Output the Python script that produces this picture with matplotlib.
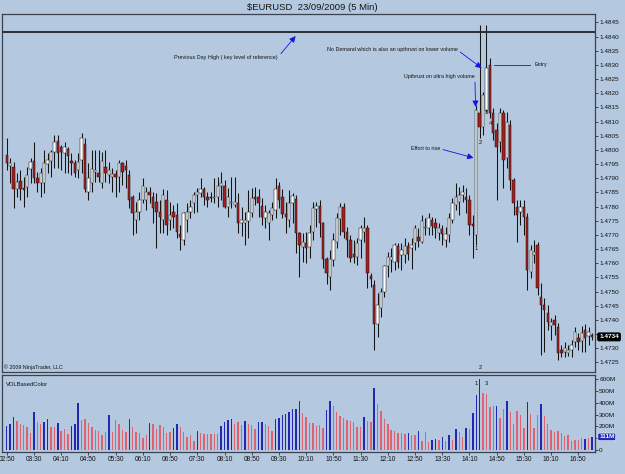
import matplotlib
matplotlib.use("Agg")
import matplotlib.pyplot as plt

# 5 minute EURUSD bars, 23/09/2009
opens = [
    1.47982, 1.47944, 1.47940, 1.47862, 1.47891, 1.47866, 1.47869, 1.47933, 1.47961, 1.47901,
    1.47884, 1.47884, 1.47951, 1.47961, 1.47993, 1.48032, 1.48011, 1.47989, 1.48004, 1.47961,
    1.47954, 1.47929, 1.47965, 1.48021, 1.47852, 1.47884, 1.47922, 1.47919, 1.47884, 1.47940,
    1.47912, 1.47905, 1.47915, 1.47905, 1.47954, 1.47944, 1.47912, 1.47834, 1.47753, 1.47781,
    1.47824, 1.47824, 1.47852, 1.47834, 1.47816, 1.47781, 1.47753, 1.47824, 1.47753, 1.47781,
    1.47771, 1.47703, 1.47682, 1.47753, 1.47781, 1.47813, 1.47841, 1.47848, 1.47862, 1.47834,
    1.47834, 1.47831, 1.47834, 1.47873, 1.47873, 1.47799, 1.47813, 1.47806, 1.47813, 1.47742,
    1.47742, 1.47749, 1.47778, 1.47834, 1.47834, 1.47802, 1.47760, 1.47742, 1.47771, 1.47788,
    1.47873, 1.47834, 1.47774, 1.47753, 1.47813, 1.47827, 1.47707, 1.47658, 1.47672, 1.47658,
    1.47711, 1.47792, 1.47802, 1.47742, 1.47615, 1.47552, 1.47612, 1.47675, 1.47756, 1.47799,
    1.47711, 1.47682, 1.47633, 1.47622, 1.47682, 1.47711, 1.47725, 1.47555, 1.47523, 1.47386,
    1.47442, 1.47499, 1.47591, 1.47612, 1.47605, 1.47661, 1.47629, 1.47629, 1.47661, 1.47654,
    1.47672, 1.47693, 1.47675, 1.47725, 1.47725, 1.47753, 1.47742, 1.47707, 1.47721, 1.47682,
    1.47700, 1.47753, 1.47806, 1.47816, 1.47841, 1.47834, 1.47824, 1.47739, 1.47700, 1.48131,
    1.48081, 1.48141, 1.48300, 1.48131, 1.48071, 1.48028, 1.48131, 1.47972, 1.48088, 1.47894,
    1.47799, 1.47781, 1.47799, 1.47763, 1.47569, 1.47629, 1.47665, 1.47481, 1.47453, 1.47425,
    1.47379, 1.47400, 1.47375, 1.47294, 1.47287, 1.47283, 1.47294, 1.47322, 1.47336, 1.47325,
    1.47365, 1.47343, 1.47347,
]
highs = [
    1.48042, 1.47972, 1.47958, 1.47919, 1.47929, 1.47905, 1.47940, 1.47972, 1.48028, 1.47922,
    1.47936, 1.48000, 1.47989, 1.48000, 1.48053, 1.48053, 1.48018, 1.48028, 1.48011, 1.47989,
    1.47965, 1.47989, 1.48060, 1.48042, 1.47954, 1.48000, 1.48000, 1.48000, 1.47993, 1.48000,
    1.47958, 1.47936, 1.47929, 1.47965, 1.47958, 1.47965, 1.47929, 1.47841, 1.47816, 1.47852,
    1.47901, 1.47869, 1.47869, 1.47852, 1.47848, 1.47824, 1.47862, 1.47859, 1.47816, 1.47806,
    1.47813, 1.47735, 1.47781, 1.47813, 1.47824, 1.47852, 1.47866, 1.47901, 1.47869, 1.47852,
    1.47852, 1.47901, 1.47905, 1.47922, 1.47894, 1.47866, 1.47905, 1.47905, 1.47848, 1.47799,
    1.47781, 1.47859, 1.47866, 1.47869, 1.47862, 1.47831, 1.47806, 1.47788, 1.47816, 1.47901,
    1.47887, 1.47862, 1.47816, 1.47859, 1.47848, 1.47841, 1.47711, 1.47707, 1.47711, 1.47735,
    1.47816, 1.47816, 1.47824, 1.47746, 1.47622, 1.47647, 1.47707, 1.47778, 1.47813, 1.47813,
    1.47728, 1.47700, 1.47682, 1.47689, 1.47735, 1.47763, 1.47735, 1.47566, 1.47541, 1.47495,
    1.47513, 1.47594, 1.47640, 1.47654, 1.47672, 1.47672, 1.47672, 1.47689, 1.47675, 1.47689,
    1.47735, 1.47725, 1.47771, 1.47760, 1.47778, 1.47763, 1.47760, 1.47742, 1.47735, 1.47728,
    1.47778, 1.47831, 1.47884, 1.47869, 1.47876, 1.47866, 1.47841, 1.47771, 1.48159, 1.48441,
    1.48205, 1.48441, 1.48325, 1.48148, 1.48095, 1.48148, 1.48141, 1.48134, 1.48106, 1.47901,
    1.47824, 1.47824, 1.47824, 1.47778, 1.47665, 1.47682, 1.47675, 1.47530, 1.47478, 1.47453,
    1.47407, 1.47418, 1.47389, 1.47312, 1.47322, 1.47312, 1.47329, 1.47375, 1.47354, 1.47379,
    1.47386, 1.47375, 1.47354,
]
lows = [
    1.47929, 1.47884, 1.47795, 1.47834, 1.47824, 1.47799, 1.47834, 1.47884, 1.47884, 1.47852,
    1.47834, 1.47848, 1.47919, 1.47905, 1.47936, 1.47936, 1.47929, 1.47919, 1.47919, 1.47912,
    1.47905, 1.47901, 1.47919, 1.47852, 1.47824, 1.47852, 1.47887, 1.47887, 1.47866, 1.47887,
    1.47884, 1.47852, 1.47834, 1.47852, 1.47876, 1.47866, 1.47795, 1.47700, 1.47707, 1.47753,
    1.47813, 1.47788, 1.47813, 1.47742, 1.47654, 1.47707, 1.47707, 1.47700, 1.47718, 1.47725,
    1.47689, 1.47647, 1.47665, 1.47711, 1.47760, 1.47778, 1.47781, 1.47834, 1.47806, 1.47799,
    1.47816, 1.47813, 1.47799, 1.47824, 1.47795, 1.47763, 1.47795, 1.47799, 1.47707, 1.47696,
    1.47665, 1.47689, 1.47763, 1.47806, 1.47763, 1.47735, 1.47725, 1.47682, 1.47753, 1.47760,
    1.47795, 1.47760, 1.47707, 1.47728, 1.47742, 1.47636, 1.47552, 1.47605, 1.47601, 1.47619,
    1.47682, 1.47728, 1.47693, 1.47583, 1.47527, 1.47506, 1.47590, 1.47654, 1.47700, 1.47689,
    1.47622, 1.47605, 1.47601, 1.47594, 1.47619, 1.47675, 1.47513, 1.47517, 1.47294, 1.47340,
    1.47410, 1.47481, 1.47552, 1.47569, 1.47576, 1.47584, 1.47576, 1.47601, 1.47612, 1.47580,
    1.47647, 1.47658, 1.47672, 1.47700, 1.47700, 1.47700, 1.47689, 1.47682, 1.47665, 1.47658,
    1.47675, 1.47742, 1.47788, 1.47771, 1.47816, 1.47778, 1.47700, 1.47618, 1.47665, 1.48042,
    1.48053, 1.48134, 1.48113, 1.48035, 1.47824, 1.47993, 1.47866, 1.47936, 1.47859, 1.47771,
    1.47675, 1.47735, 1.47700, 1.47506, 1.47548, 1.47600, 1.47488, 1.47276, 1.47287, 1.47365,
    1.47329, 1.47347, 1.47259, 1.47269, 1.47269, 1.47273, 1.47269, 1.47305, 1.47294, 1.47287,
    1.47287, 1.47312, 1.47329,
]
closes = [
    1.47954, 1.47954, 1.47862, 1.47887, 1.47862, 1.47859, 1.47912, 1.47958, 1.47901, 1.47884,
    1.47919, 1.47954, 1.47965, 1.47993, 1.48028, 1.47989, 1.47993, 1.48011, 1.47979, 1.47954,
    1.47919, 1.47958, 1.48042, 1.47862, 1.47901, 1.47933, 1.47929, 1.47905, 1.47961, 1.47919,
    1.47929, 1.47915, 1.47905, 1.47954, 1.47922, 1.47929, 1.47824, 1.47778, 1.47781, 1.47824,
    1.47873, 1.47852, 1.47841, 1.47795, 1.47781, 1.47763, 1.47841, 1.47735, 1.47771, 1.47763,
    1.47711, 1.47693, 1.47778, 1.47781, 1.47799, 1.47841, 1.47852, 1.47862, 1.47834, 1.47824,
    1.47831, 1.47834, 1.47873, 1.47884, 1.47799, 1.47834, 1.47816, 1.47816, 1.47742, 1.47753,
    1.47753, 1.47781, 1.47831, 1.47827, 1.47813, 1.47763, 1.47781, 1.47778, 1.47795, 1.47862,
    1.47824, 1.47774, 1.47763, 1.47813, 1.47838, 1.47707, 1.47665, 1.47675, 1.47654, 1.47707,
    1.47795, 1.47802, 1.47742, 1.47615, 1.47566, 1.47615, 1.47682, 1.47760, 1.47799, 1.47711,
    1.47682, 1.47619, 1.47622, 1.47672, 1.47725, 1.47725, 1.47566, 1.47545, 1.47386, 1.47453,
    1.47499, 1.47591, 1.47622, 1.47622, 1.47665, 1.47605, 1.47647, 1.47661, 1.47633, 1.47665,
    1.47725, 1.47679, 1.47749, 1.47728, 1.47760, 1.47732, 1.47725, 1.47725, 1.47703, 1.47703,
    1.47760, 1.47813, 1.47834, 1.47841, 1.47852, 1.47824, 1.47735, 1.47732, 1.48141, 1.48081,
    1.48194, 1.48289, 1.48131, 1.48060, 1.48011, 1.48131, 1.47965, 1.48099, 1.47894, 1.47813,
    1.47771, 1.47799, 1.47763, 1.47576, 1.47647, 1.47640, 1.47513, 1.47453, 1.47435, 1.47393,
    1.47393, 1.47382, 1.47283, 1.47283, 1.47301, 1.47294, 1.47312, 1.47357, 1.47322, 1.47354,
    1.47336, 1.47357, 1.47340,
]

# volume in millions, and the indicator's colour class (b = blue, r = red)
volume_m = [
    203, 220, 276, 248, 220, 215, 197, 146, 321, 237,
    220, 237, 259, 194, 192, 231, 161, 175, 135, 206,
    220, 400, 254, 262, 231, 192, 169, 161, 127, 150,
    296, 149, 254, 217, 166, 155, 262, 194, 155, 141,
    104, 127, 231, 223, 175, 211, 197, 146, 152, 183,
    220, 192, 155, 107, 127, 79, 161, 141, 135, 135,
    135, 135, 132, 206, 234, 254, 259, 217, 234, 211,
    245, 220, 208, 175, 237, 237, 220, 206, 158, 262,
    273, 293, 304, 321, 349, 344, 417, 310, 279, 225,
    225, 200, 208, 183, 338, 414, 375, 318, 287, 273,
    254, 248, 234, 197, 197, 279, 248, 239, 521, 389,
    327, 259, 220, 169, 158, 141, 141, 135, 146, 127,
    127, 161, 79, 155, 70, 87, 90, 85, 107, 79,
    124, 85, 177, 155, 113, 183, 180, 310, 465, 600,
    482, 475, 366, 372, 372, 268, 346, 414, 324, 220,
    327, 296, 183, 408, 304, 183, 299, 386, 290, 217,
    169, 155, 158, 140, 120, 127, 79, 85, 82, 99,
    93, 99, 111,
]
volume_kind = (
    "bbbrrrrrbr" "rbbrrbrrrb" "bbrrrrrrrr" "brrrrrbrrr"
    "rrbrrrrrrb" "brrrrrbrrr" "rrrbbbbrrr" "brrrbbrrrb"
    "bbbbbbbrrr" "rrrrbbrrrr" "rrrrrbrrbr" "rrrrrrrrbr"
    "rbrrrbbrbr" "brbrrbrbbb" "rrrrbrrbrr" "rrrbrrrbrr"
    "rrrrrrrrrr" "brb"
)

tick_labels = ["02:50", "03:30", "04:10", "04:50", "05:30", "06:10", "06:50", "07:30",
               "08:10", "08:50", "09:30", "10:10", "10:50", "11:30", "12:10", "12:50",
               "13:30", "14:10", "14:50", "15:30", "16:10", "16:50"]
BARS_PER_TICK = 8
PREV_DAY_HIGH = 1.48417
price_ticks = [1.4725 + 0.0005 * k for k in range(25)]
volume_ticks = [0, 100, 200, 300, 400, 500, 600]

BG = "#b4c8df"
FRAME = "#3a4250"
INK = "#141414"
UP_BODY = "#ffffff"
DOWN_BODY = "#a81c1c"
VOL_BLUE = "#2228b4"
VOL_RED = "#de6270"
ARROW = "#1414e6"

plt.rcParams["font.family"] = ["Liberation Sans", "DejaVu Sans"]

W, H = 625, 474
fig = plt.figure(figsize=(W / 100, H / 100), dpi=100)
fig.patch.set_facecolor(BG)

ax = fig.add_axes([2 / W, 1 - 372 / H, 593 / W, 358 / H])
axv = fig.add_axes([2 / W, 1 - 452 / H, 593 / W, 77 / H], sharex=ax)

fig.text(0.5, 1 - 8 / H, "$EURUSD  23/09/2009 (5 Min)", ha="center", va="center",
         fontsize=6.8, color=INK)

n = len(closes)
idx = list(range(n))

# candles
ax.vlines(idx, lows, highs, color=INK, linewidth=0.75, zorder=2)
for i in idx:
    o, c = opens[i], closes[i]
    bottom = min(o, c)
    height = max(abs(c - o), 0.000012)
    ax.bar(i, height, bottom=bottom, width=0.7,
           color=UP_BODY if c >= o else DOWN_BODY,
           edgecolor=INK, linewidth=0.35, zorder=3)

ax.axhline(PREV_DAY_HIGH, color="#2a2e36", linewidth=1.4, zorder=4)

ax.set_xlim(-1.4, 172.9)
ax.set_ylim(1.47216, 1.48480)
ax.set_facecolor(BG)
ax.yaxis.tick_right()
ax.set_yticks(price_ticks)
# the last-price tag covers the 1.4735 label, as in the original
ax.set_yticklabels(["" if abs(t - 1.4735) < 1e-7 else f"{t:.4f}" for t in price_ticks])
ax.tick_params(axis="y", labelsize=4.6, length=2, width=0.5, colors=INK, pad=1)
ax.tick_params(axis="x", bottom=False, labelbottom=False)
for s in ax.spines.values():
    s.set_color(FRAME)
    s.set_linewidth(0.9)

# last price tag
ax.annotate(f"{closes[-1]:.4f}", (1.0, closes[-1]), xycoords=("axes fraction", "data"),
            xytext=(3, 0), textcoords="offset points", ha="left", va="center",
            fontsize=4.6, color="white", fontweight="bold",
            bbox=dict(boxstyle="round,pad=0.2", fc="black", ec="black"))

# annotations
def note(text, xy, xytext):
    ax.annotate(text, xy=xy, xytext=xytext, fontsize=3.9, color=INK, ha="left", va="center",
                arrowprops=dict(arrowstyle="-|>", color=ARROW, lw=0.6, mutation_scale=9,
                                shrinkA=0, shrinkB=0, relpos=(1.0, 0.5)))

note("Previous Day High ( key level of reference)", (84.9, 1.48402), (49.3, 1.48328))
note("No Demand which is also an upthrust on lower volume", (139.6, 1.48289), (94.0, 1.48353))
note("Upthrust on ultra high volume", (137.8, 1.48152), (116.8, 1.48258))
note("Effort to rise", (137.2, 1.47972), (118.8, 1.48004))
ax.plot([143.1, 153.9], [1.48300, 1.48300], color=ARROW, linewidth=0.6, zorder=4)
ax.text(155.1, 1.48300, "Entry", fontsize=3.9, color=INK, va="center")

for label, i, price in (("1", 138, 1.47651), ("2", 139.3, 1.48025),
                        ("3", 141, 1.48131), ("4", 142.2, 1.48095)):
    ax.text(i, price, label, fontsize=4.2, color=INK, ha="center", va="center")
ax.text(139.3, 0.012, "2", transform=ax.get_xaxis_transform(), fontsize=4.2,
        color=INK, ha="center", va="center")
ax.text(0.004, 0.013, "© 2009 NinjaTrader, LLC", transform=ax.transAxes,
        fontsize=3.8, color=INK, va="center")

# volume panel
vcolors = [VOL_BLUE if k == "b" else VOL_RED for k in volume_kind]
axv.bar(idx, volume_m, width=0.42, color=vcolors, linewidth=0, zorder=2)
axv.set_ylim(-17, 635)
axv.set_facecolor(BG)
axv.yaxis.tick_right()
axv.set_yticks(volume_ticks)
# the last-volume tag covers the 100M label
axv.set_yticklabels(["" if v == 100 else (f"{v}M" if v else "0") for v in volume_ticks])
axv.tick_params(axis="y", labelsize=4.6, length=2, width=0.5, colors=INK, pad=1)
axv.set_xticks([k * BARS_PER_TICK for k in range(len(tick_labels))])
axv.set_xticklabels(tick_labels)
axv.tick_params(axis="x", labelsize=4.8, length=2, width=0.5, colors=INK, pad=1)
for s in axv.spines.values():
    s.set_color(FRAME)
    s.set_linewidth(0.9)
axv.text(0.006, 0.88, "VOLBasedColor", transform=axv.transAxes, fontsize=4.2,
         color=INK, va="center")
axv.text(138, 560, "1", fontsize=4.2, color=INK, ha="center", va="center")
axv.text(141, 560, "3", fontsize=4.2, color=INK, ha="center", va="center")
axv.annotate(f"{volume_m[-1]}M", (1.0, volume_m[-1]), xycoords=("axes fraction", "data"),
             xytext=(3, 0), textcoords="offset points", ha="left", va="center",
             fontsize=4.6, color="white", fontweight="bold",
             bbox=dict(boxstyle="round,pad=0.2", fc=VOL_BLUE, ec="white", lw=0.4))

fig.savefig("out.png", facecolor=BG)
